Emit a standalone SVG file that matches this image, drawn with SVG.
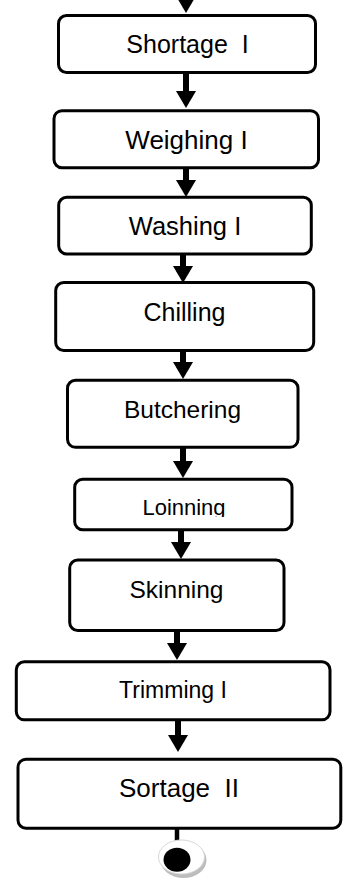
<svg xmlns="http://www.w3.org/2000/svg" width="350" height="887" viewBox="0 0 350 887">
<style>
.box{fill:#fff;stroke:#000;stroke-width:3}
.lbl{font-family:"Liberation Sans",Arial,sans-serif;fill:#000;text-anchor:middle}
.shaft{stroke:#000;stroke-width:6;fill:none}
</style>
<defs>
<marker id="ah" markerUnits="userSpaceOnUse" viewBox="0 0 17 20" refX="0" refY="10" markerWidth="17" markerHeight="20" orient="auto">
<path d="M0,0 L17,10 L0,20 z" fill="#000"/>
</marker>
<clipPath id="clipL"><rect x="0" y="470" width="350" height="47"/></clipPath>
</defs>
<rect width="350" height="887" fill="#fff"/>
<g id="connectors">
<polygon points="176,-4 196,-4 186,13" fill="#000"/>
<line class="shaft" x1="186" y1="73" x2="186" y2="91" marker-end="url(#ah)"/>
<line class="shaft" x1="186" y1="168" x2="186" y2="180" marker-end="url(#ah)"/>
<line class="shaft" x1="183" y1="255" x2="183" y2="266" marker-end="url(#ah)"/>
<line class="shaft" x1="183" y1="351" x2="183" y2="362" marker-end="url(#ah)"/>
<line class="shaft" x1="183" y1="448" x2="183" y2="461" marker-end="url(#ah)"/>
<line class="shaft" x1="181" y1="530" x2="181" y2="542" marker-end="url(#ah)"/>
<line class="shaft" x1="177" y1="631" x2="177" y2="643" marker-end="url(#ah)"/>
<line class="shaft" x1="178" y1="720" x2="178" y2="735" marker-end="url(#ah)"/>
<line x1="177" y1="829" x2="177" y2="842" stroke="#000" stroke-width="4.5"/>
</g>
<g id="n1"><rect class="box" x="58.5" y="15.5" width="257" height="57" rx="8"/><text class="lbl" x="187.5" y="53" font-size="25" xml:space="preserve">Shortage  I</text></g>
<g id="n2"><rect class="box" x="54" y="110.7" width="264.5" height="57" rx="8"/><text class="lbl" x="186.5" y="149.3" font-size="26">Weighing I</text></g>
<g id="n3"><rect class="box" x="58.7" y="197.3" width="252.6" height="56.7" rx="8"/><text class="lbl" x="185" y="235" font-size="25.5">Washing I</text></g>
<g id="n4"><rect class="box" x="55.7" y="282.5" width="258" height="68" rx="8"/><text class="lbl" x="184.5" y="320.7" font-size="25">Chilling</text></g>
<g id="n5"><rect class="box" x="67.5" y="380.3" width="230.5" height="67" rx="8"/><text class="lbl" x="182.5" y="418.3" font-size="24.5">Butchering</text></g>
<g id="n6"><rect class="box" x="74.7" y="479.3" width="217.3" height="50.4" rx="8"/><text class="lbl" x="184" y="514.8" font-size="22" clip-path="url(#clipL)">Loinning</text></g>
<g id="n7"><rect class="box" x="69.7" y="560" width="214.3" height="70.5" rx="8"/><text class="lbl" x="176.5" y="598.3" font-size="24.5">Skinning</text></g>
<g id="n8"><rect class="box" x="16.3" y="661.8" width="313.7" height="58" rx="8"/><text class="lbl" x="173" y="698.3" font-size="23">Trimming I</text></g>
<g id="n9"><rect class="box" x="18" y="759.2" width="322.8" height="69" rx="8"/><text class="lbl" x="179" y="796.7" font-size="26" xml:space="preserve">Sortage  II</text></g>
<g id="end">
<ellipse cx="183.5" cy="860" rx="23" ry="18" fill="#bdbdbd"/>
<ellipse cx="181.5" cy="857" rx="23" ry="17" fill="#fff" stroke="#d8d8d8" stroke-width="1"/>
<ellipse cx="177" cy="859.7" rx="13.5" ry="12" fill="#000"/>
</g>
</svg>
